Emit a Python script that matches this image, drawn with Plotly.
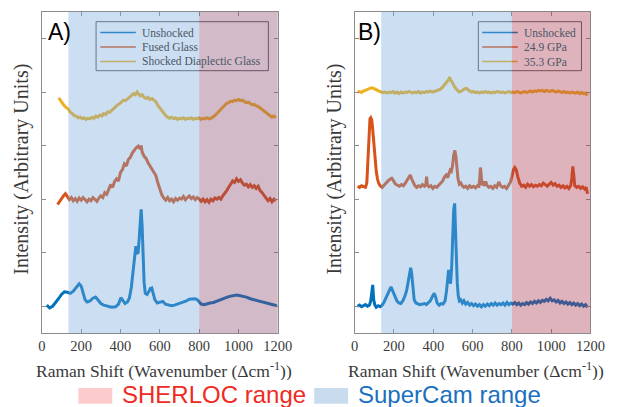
import plotly.graph_objects as go

# ---------------- data ----------------
tick_vals = [0, 200, 400, 600, 800, 1000, 1200]
tick_text = ["0", "200", "400", "600", "800", "1000", "1200"]
supercam_range = [135, 800]
sherloc_range = [800, 1200]

a_names = ["Unshocked", "Fused Glass", "Shocked Diaplectic Glass"]
b_names = ["Unshocked", "24.9 GPa", "35.3 GPa"]

a_blue_x = [25, 40, 55, 70, 85, 100, 115, 130, 145, 160, 175, 190, 200, 210, 220, 230, 245, 260, 273, 285,
            300, 315, 335, 355, 375, 390, 402, 412, 423, 435, 445, 455, 462, 468, 473, 478, 483, 489, 494, 499,
            505, 510, 515, 520, 526, 535, 545, 552, 559, 566, 575, 587, 600, 615, 628, 645, 660, 675, 690, 705,
            720, 735, 750, 766, 780, 790, 799, 810, 825, 840, 855, 873, 890, 910, 930, 950, 970, 990, 1004, 1020,
            1040, 1060, 1080, 1100, 1120, 1140, 1160, 1180, 1195]
a_blue_y = [0.02, -0.03, 0.0, 0.06, 0.14, 0.22, 0.27, 0.26, 0.24, 0.28, 0.36, 0.42, 0.38, 0.25, 0.12, 0.08, 0.10, 0.15, 0.17, 0.12,
            0.05, 0.02, 0.0, -0.02, -0.01, 0.04, 0.16, 0.10, 0.05, 0.08, 0.15, 0.35, 0.62, 0.88, 1.05, 1.12, 1.0, 0.98, 1.2, 1.6,
            1.81, 1.5, 0.9, 0.45, 0.24, 0.22, 0.28, 0.33, 0.34, 0.25, 0.12, 0.06, 0.07, 0.09, 0.04, 0.02, 0.01, 0.02, 0.04, 0.05,
            0.07, 0.10, 0.13, 0.14, 0.14, 0.12, 0.08, 0.04, 0.03, 0.05, 0.06, 0.07, 0.09, 0.12, 0.15, 0.18, 0.20, 0.21, 0.20, 0.19,
            0.17, 0.14, 0.12, 0.10, 0.08, 0.06, 0.04, 0.02, 0.01]

a_red_x = [80, 90, 100, 110, 120, 130, 140, 150, 160, 170, 180, 190, 200, 210, 220, 230, 240, 250, 260, 270,
           280, 290, 300, 310, 320, 330, 340, 350, 360, 370, 380, 390, 400, 410, 420, 430, 440, 450, 460, 470,
           480, 490, 500, 505, 510, 520, 530, 540, 550, 560, 570, 580, 590, 600, 610, 620, 630, 640, 650, 660,
           670, 680, 690, 700, 710, 720, 730, 740, 750, 760, 770, 780, 790, 800, 810, 820, 830, 840, 850, 860,
           870, 880, 890, 900, 910, 920, 930, 940, 950, 960, 970, 980, 990, 1000, 1010, 1020, 1030, 1040, 1050, 1060,
           1070, 1080, 1090, 1100, 1110, 1120, 1130, 1140, 1150, 1160, 1170, 1180, 1190]
a_red_y = [1.90, 1.96, 2.02, 2.06, 2.10, 2.05, 1.99, 2.03, 1.97, 2.01, 1.96, 2.02, 1.98, 2.03, 1.99, 1.95, 2.00, 1.97, 2.03, 2.00,
           1.96, 2.02, 2.06, 2.03, 2.12, 2.09, 2.20, 2.27, 2.22, 2.33, 2.38, 2.34, 2.50, 2.55, 2.66, 2.62, 2.74, 2.78, 2.86, 2.92,
           2.96, 2.99, 2.94, 3.00, 2.88, 2.80, 2.76, 2.68, 2.62, 2.55, 2.48, 2.44, 2.30, 2.18, 2.08, 2.02, 1.98, 2.03, 1.97, 2.00,
           1.95, 2.01, 1.98, 2.02, 2.00, 2.05, 1.99, 2.03, 2.06, 2.01, 2.04, 1.99, 2.03, 2.00, 1.96, 2.00, 1.95, 1.99, 1.94, 2.00,
           1.97, 2.02, 2.00, 2.03, 2.00, 2.06, 2.10, 2.16, 2.22, 2.28, 2.34, 2.31, 2.38, 2.33, 2.36, 2.30, 2.26, 2.28, 2.23, 2.27,
           2.22, 2.25, 2.20, 2.24, 2.16, 2.12, 2.06, 2.02, 1.97, 2.01, 1.95, 2.00, 1.97]

a_yel_x = [86, 95, 105, 115, 125, 135, 145, 155, 165, 175, 185, 195, 205, 215, 225, 235, 245, 255, 265, 275,
           285, 295, 305, 315, 325, 335, 345, 355, 365, 375, 385, 395, 405, 415, 425, 435, 445, 455, 465, 475,
           484, 490, 500, 510, 520, 530, 540, 550, 560, 570, 580, 590, 600, 610, 620, 630, 640, 650, 660, 670,
           680, 690, 700, 710, 720, 730, 740, 750, 760, 770, 780, 790, 800, 810, 820, 830, 840, 850, 860, 870,
           880, 890, 900, 910, 920, 930, 940, 950, 960, 970, 980, 990, 1000, 1010, 1020, 1030, 1040, 1050, 1060, 1070,
           1080, 1090, 1100, 1110, 1120, 1130, 1140, 1150, 1160, 1170, 1180, 1190]
a_yel_y = [3.89, 3.84, 3.80, 3.74, 3.71, 3.68, 3.62, 3.60, 3.56, 3.55, 3.52, 3.53, 3.50, 3.52, 3.49, 3.51, 3.50, 3.53, 3.51, 3.55,
           3.53, 3.57, 3.55, 3.60, 3.58, 3.63, 3.62, 3.66, 3.70, 3.72, 3.76, 3.78, 3.82, 3.85, 3.84, 3.88, 3.90, 3.93, 3.97, 3.95,
           4.00, 3.97, 3.93, 3.95, 3.90, 3.88, 3.90, 3.86, 3.88, 3.85, 3.82, 3.75, 3.70, 3.65, 3.60, 3.56, 3.53, 3.51, 3.53, 3.50,
           3.52, 3.49, 3.51, 3.50, 3.52, 3.49, 3.51, 3.50, 3.52, 3.49, 3.51, 3.50, 3.52, 3.49, 3.51, 3.50, 3.52, 3.50, 3.51, 3.53,
           3.56, 3.60, 3.64, 3.68, 3.72, 3.76, 3.79, 3.80, 3.83, 3.82, 3.85, 3.84, 3.86, 3.84, 3.85, 3.82, 3.80, 3.81, 3.78, 3.76,
           3.77, 3.74, 3.73, 3.70, 3.68, 3.65, 3.62, 3.58, 3.56, 3.53, 3.55, 3.52]

b_blue_x = [15, 25, 35, 45, 55, 65, 75, 82, 88, 92, 97, 103, 110, 120, 130, 140, 150, 160, 170, 178,
            185, 192, 200, 208, 215, 225, 235, 245, 255, 265, 273, 280, 285, 290, 296, 303, 312, 322, 332, 345,
            355, 365, 375, 385, 395, 405, 413, 420, 430, 440, 450, 460, 468, 474, 478, 483, 488, 494, 499, 504,
            509, 513, 517, 522, 527, 533, 540, 548, 556, 565, 575, 585, 595, 605, 615, 625, 635, 645, 655, 665,
            675, 685, 695, 705, 715, 725, 735, 745, 755, 765, 775, 785, 795, 805, 815, 825, 835, 845, 855, 865,
            875, 885, 895, 905, 915, 925, 935, 945, 955, 965, 975, 985, 995, 1005, 1015, 1025, 1035, 1045, 1055, 1065,
            1075, 1085, 1095, 1105, 1115, 1125, 1135, 1145, 1155, 1165, 1175, 1185]
b_blue_y = [0.00, 0.02, -0.01, 0.01, 0.03, 0.00, 0.02, 0.10, 0.38, 0.40, 0.12, 0.02, -0.02, 0.01, -0.01, 0.02, 0.08, 0.16, 0.25, 0.33,
            0.36, 0.30, 0.22, 0.16, 0.10, 0.06, 0.05, 0.10, 0.18, 0.30, 0.45, 0.62, 0.72, 0.62, 0.35, 0.12, 0.06, 0.05, 0.03, 0.04,
            0.05, 0.03, 0.06, 0.10, 0.18, 0.24, 0.16, 0.06, 0.02, 0.05, 0.04, 0.10, 0.30, 0.62, 0.68, 0.55, 0.42, 0.75, 1.35, 1.80,
            1.92, 1.60, 1.00, 0.45, 0.20, 0.10, 0.12, 0.06, 0.10, 0.04, 0.07, 0.02, 0.05, 0.01, 0.04, 0.00, 0.03, -0.01, 0.03, 0.00,
            0.04, 0.01, 0.05, 0.02, 0.06, 0.02, 0.05, 0.03, 0.06, 0.02, 0.07, 0.03, 0.06, 0.04, 0.07, 0.03, 0.06, 0.02, 0.05, 0.03,
            0.07, 0.04, 0.08, 0.05, 0.09, 0.06, 0.10, 0.07, 0.11, 0.09, 0.13, 0.10, 0.15, 0.10, 0.12, 0.08, 0.11, 0.06, 0.09, 0.05,
            0.08, 0.04, 0.07, 0.03, 0.06, 0.02, 0.05, 0.01, 0.04, 0.00, 0.03, -0.02]

b_red_x = [15, 25, 35, 45, 55, 62, 68, 73, 78, 82, 87, 92, 98, 104, 110, 116, 122, 130, 140, 150,
           160, 170, 180, 189, 198, 208, 218, 228, 238, 248, 258, 268, 276, 283, 290, 298, 305, 315, 325, 335,
           345, 355, 362, 366, 370, 378, 388, 398, 408, 418, 428, 438, 448, 458, 466, 474, 480, 486, 492, 498,
           504, 510, 515, 520, 526, 533, 540, 548, 556, 565, 575, 585, 595, 605, 615, 625, 632, 637, 640, 643,
           647, 655, 662, 667, 673, 683, 693, 703, 713, 723, 733, 743, 753, 763, 773, 783, 793, 800, 808, 815,
           822, 830, 840, 850, 860, 870, 880, 890, 900, 910, 920, 930, 940, 950, 960, 970, 980, 990, 1000, 1010,
           1020, 1030, 1040, 1050, 1060, 1070, 1080, 1090, 1100, 1105, 1110, 1115, 1120, 1130, 1140, 1150, 1160, 1170, 1178, 1185]
b_red_y = [2.24, 2.22, 2.25, 2.23, 2.22, 2.30, 2.70, 3.20, 3.50, 3.52, 3.48, 3.30, 3.00, 2.75, 2.52, 2.38, 2.30, 2.25, 2.22, 2.26,
           2.31, 2.34, 2.37, 2.39, 2.34, 2.28, 2.26, 2.24, 2.27, 2.25, 2.30, 2.36, 2.42, 2.45, 2.38, 2.30, 2.26, 2.22, 2.25, 2.23,
           2.27, 2.24, 2.26, 2.42, 2.26, 2.23, 2.25, 2.20, 2.24, 2.22, 2.27, 2.30, 2.34, 2.42, 2.45, 2.40, 2.48, 2.54, 2.52, 2.62,
           2.82, 2.91, 2.80, 2.55, 2.38, 2.28, 2.30, 2.25, 2.22, 2.24, 2.20, 2.25, 2.22, 2.24, 2.21, 2.25, 2.24, 2.40, 2.59, 2.50,
           2.26, 2.30, 2.25, 2.33, 2.26, 2.22, 2.24, 2.20, 2.25, 2.22, 2.32, 2.25, 2.22, 2.24, 2.20, 2.26, 2.32, 2.42, 2.55, 2.59,
           2.55, 2.42, 2.30, 2.24, 2.26, 2.22, 2.28, 2.24, 2.27, 2.23, 2.26, 2.24, 2.27, 2.25, 2.30, 2.27, 2.24, 2.28, 2.31, 2.26,
           2.29, 2.24, 2.26, 2.22, 2.25, 2.21, 2.24, 2.20, 2.26, 2.40, 2.61, 2.45, 2.25, 2.22, 2.24, 2.20, 2.23, 2.19, 2.22, 2.10]

b_yel_x = [15, 25, 35, 45, 55, 65, 75, 85, 95, 105, 115, 125, 135, 145, 155, 165, 175, 185, 195, 205,
           215, 225, 235, 245, 255, 265, 275, 285, 295, 305, 315, 325, 335, 345, 355, 365, 375, 385, 395, 405,
           415, 425, 435, 445, 455, 465, 472, 478, 483, 488, 494, 500, 508, 516, 524, 532, 540, 550, 560, 568,
           576, 585, 595, 605, 615, 625, 635, 645, 655, 665, 675, 685, 695, 705, 715, 725, 735, 745, 755, 765,
           775, 785, 795, 805, 815, 825, 835, 845, 855, 865, 875, 885, 895, 905, 915, 925, 935, 945, 955, 965,
           975, 985, 995, 1005, 1015, 1025, 1035, 1045, 1055, 1065, 1075, 1085, 1095, 1105, 1115, 1125, 1135, 1145, 1155, 1165,
           1175, 1183]
b_yel_y = [4.00, 4.01, 3.99, 4.02, 4.03, 4.05, 4.06, 4.08, 4.07, 4.05, 4.04, 4.01, 4.00, 3.99, 4.00, 3.98, 4.00, 3.99, 4.01, 3.98,
           4.00, 3.97, 4.00, 3.98, 4.00, 3.99, 4.01, 4.00, 3.98, 4.00, 3.99, 4.01, 3.98, 4.00, 3.99, 4.01, 4.00, 4.02, 4.00, 4.01,
           4.02, 4.04, 4.05, 4.08, 4.12, 4.17, 4.20, 4.23, 4.28, 4.22, 4.20, 4.15, 4.10, 4.06, 4.02, 4.00, 4.01, 4.04, 4.06, 4.07,
           4.04, 4.02, 4.00, 4.01, 3.99, 4.00, 3.98, 4.00, 3.99, 4.01, 3.99, 4.00, 3.98, 4.00, 3.99, 4.01, 4.00, 3.99, 4.00, 3.98,
           4.00, 4.01, 3.99, 4.00, 3.99, 4.01, 4.00, 3.98, 4.00, 4.01, 3.99, 4.01, 4.02, 4.00, 4.02, 4.01, 4.03, 4.02, 4.03, 4.01,
           4.03, 4.02, 4.01, 4.03, 4.01, 4.00, 4.02, 4.00, 3.99, 4.01, 3.99, 4.00, 3.98, 4.00, 3.99, 3.98, 4.00, 3.97, 3.99, 3.97,
           3.98, 3.93]

# ---------------- styling ----------------
W, H = 621, 407
C_BLUE, C_RED, C_YEL = "#0072BD", "#D95319", "#EDB120"
SERIF = "Liberation Serif, Times New Roman, serif"
SANS = "Liberation Sans, Arial, sans-serif"
AX_COLOR = "#8c8c8c"

fig = go.Figure()

panels = [
    ("x", "y", [(a_blue_x, a_blue_y, C_BLUE), (a_red_x, a_red_y, C_RED), (a_yel_x, a_yel_y, C_YEL)]),
    ("x2", "y2", [(b_blue_x, b_blue_y, C_BLUE), (b_red_x, b_red_y, C_RED), (b_yel_x, b_yel_y, C_YEL)]),
]
for xa, ya, series in panels:
    for xs, ys, col in series:
        fig.add_trace(go.Scatter(x=xs, y=ys, mode="lines", xaxis=xa, yaxis=ya,
                                 line=dict(color=col, width=3), showlegend=False, hoverinfo="skip"))

# domains in pixels
ax_a = (39, 282.5)
ax_b = (361.7, 605)
y_top, y_bot = 11.7, 333
ydom = [1 - y_bot / H, 1 - y_top / H]

axis_common = dict(range=[0, 1200], tickvals=tick_vals, ticktext=tick_text, ticks="inside", ticklen=4,
                   tickcolor=AX_COLOR, showline=True, linecolor=AX_COLOR, linewidth=1, mirror="ticks",
                   showgrid=False, zeroline=False, tickfont=dict(family=SERIF, size=14.5, color="#3a3a3a"),
                   fixedrange=True)
yaxis_common = dict(range=[-0.5, 5.5], tickvals=[0, 1, 2, 3, 4, 5], showticklabels=False, ticks="inside",
                    ticklen=4, tickcolor=AX_COLOR, showline=True, linecolor=AX_COLOR, linewidth=1,
                    mirror="ticks", showgrid=False, zeroline=False, fixedrange=True)

fig.update_layout(
    width=W, height=H, margin=dict(l=0, r=0, t=0, b=0), autosize=False,
    paper_bgcolor="white", plot_bgcolor="white", showlegend=False,
    xaxis=dict(domain=[ax_a[0] / W, ax_a[1] / W], anchor="y", **axis_common),
    yaxis=dict(domain=ydom, anchor="x", **yaxis_common),
    xaxis2=dict(domain=[ax_b[0] / W, ax_b[1] / W], anchor="y2", **axis_common),
    yaxis2=dict(domain=ydom, anchor="x2", **yaxis_common),
)

shapes = []
annos = []

# range shading (drawn above the lines, as in the source)
shade_blue = "rgba(120,170,220,0.38)"
shade_pink = {"x": "rgba(137,74,110,0.38)", "x2": "rgba(170,55,75,0.38)"}
for xa, ya in [("x", "y"), ("x2", "y2")]:
    shapes.append(dict(type="rect", xref=xa, yref=ya + " domain", x0=supercam_range[0], x1=supercam_range[1],
                       y0=0, y1=1, fillcolor=shade_blue, line=dict(width=0), layer="above"))
    shapes.append(dict(type="rect", xref=xa, yref=ya + " domain", x0=sherloc_range[0], x1=sherloc_range[1],
                       y0=0, y1=1, fillcolor=shade_pink[xa], line=dict(width=0), layer="above"))

# in-panel legends (beneath shading)
def px_to_dom(px, ax):
    return (px - ax[0]) / (ax[1] - ax[0])

def py_to_dom(py):
    return (y_bot - py) / (y_bot - y_top)

legend_specs = [
    ("x", "y", ax_a, a_names, (95, 272.7), (99.3, 136), 140),
    ("x2", "y2", ax_b, b_names, (489.3, 595.7), (493.3, 530), 534),
]
rows = [32.5, 47, 61.5]
for xa, ya, ax, names, box, seg, tx in legend_specs:
    xr, yr = xa + " domain", ya + " domain"
    shapes.append(dict(type="rect", xref=xr, yref=yr, x0=px_to_dom(box[0], ax), x1=px_to_dom(box[1], ax),
                       y0=py_to_dom(70.7), y1=py_to_dom(21.7), line=dict(color="#5a5a5a", width=1),
                       fillcolor="white", layer="below"))
    for name, col, ry in zip(names, [C_BLUE, C_RED, C_YEL], rows):
        shapes.append(dict(type="line", xref=xr, yref=yr, x0=px_to_dom(seg[0], ax), x1=px_to_dom(seg[1], ax),
                           y0=py_to_dom(ry), y1=py_to_dom(ry), line=dict(color=col, width=1.5), layer="below"))
        annos.append(dict(xref=xr, yref=yr, x=px_to_dom(tx, ax), y=py_to_dom(ry), text=name, showarrow=False,
                          xanchor="left", yanchor="middle", font=dict(family=SERIF, size=11.5, color="#4a5566")))

# panel letters
annos.append(dict(xref="x domain", yref="y domain", x=px_to_dom(57.5, ax_a), y=py_to_dom(31.7), text="A)",
                  showarrow=False, xanchor="center", yanchor="middle", font=dict(family=SANS, size=23, color="black")))
annos.append(dict(xref="x2 domain", yref="y2 domain", x=px_to_dom(376.7, ax_b), y=py_to_dom(31.7), text="B)",
                  showarrow=False, xanchor="center", yanchor="middle", font=dict(family=SANS, size=23, color="black")))

# axis titles
xtitle = "Raman Shift (Wavenumber (Δcm<sup>-1</sup>))"
ytitle = "Intensity (Arbitrary Units)"
for ax, ytx in [(ax_a, 18.3), (ax_b, 341)]:
    annos.append(dict(xref="paper", yref="paper", x=((ax[0] + ax[1]) / 2 + 4) / W, y=1 - 370 / H, text=xtitle,
                      showarrow=False, xanchor="center", yanchor="middle", height=20, valign="middle",
                      font=dict(family=SERIF, size=17.5, color="#3a3a3a")))
    annos.append(dict(xref="paper", yref="paper", x=ytx / W, y=1 - 169 / H, text=ytitle, textangle=-90,
                      showarrow=False, xanchor="center", yanchor="middle",
                      font=dict(family=SERIF, size=20, color="#3a3a3a")))

# bottom key
shapes.append(dict(type="rect", xref="paper", yref="paper", x0=76.7 / W, x1=111.7 / W, y0=1 - 403.7 / H,
                   y1=1 - 388 / H, fillcolor="#fccccc", line=dict(width=0), layer="above"))
shapes.append(dict(type="rect", xref="paper", yref="paper", x0=320 / W, x1=355 / W, y0=1 - 403.7 / H,
                   y1=1 - 388 / H, fillcolor="#c9dcee", line=dict(width=0), layer="above"))
annos.append(dict(xref="paper", yref="paper", x=120 / W, y=1 - 394 / H, text="SHERLOC range", showarrow=False,
                  xanchor="left", yanchor="middle", height=25, valign="middle",
                  font=dict(family=SANS, size=24, color="#f02a1e")))
annos.append(dict(xref="paper", yref="paper", x=363 / W, y=1 - 394 / H, text="SuperCam range", showarrow=False,
                  xanchor="left", yanchor="middle", height=25, valign="middle",
                  font=dict(family=SANS, size=24, color="#1a70be")))

fig.update_layout(shapes=shapes, annotations=annos)
fig.write_html("out.html", config={"displayModeBar": False, "staticPlot": True},
               post_script="document.body.style.margin='0px';document.body.style.padding='0px';"
                           "document.body.style.overflow='hidden';")
